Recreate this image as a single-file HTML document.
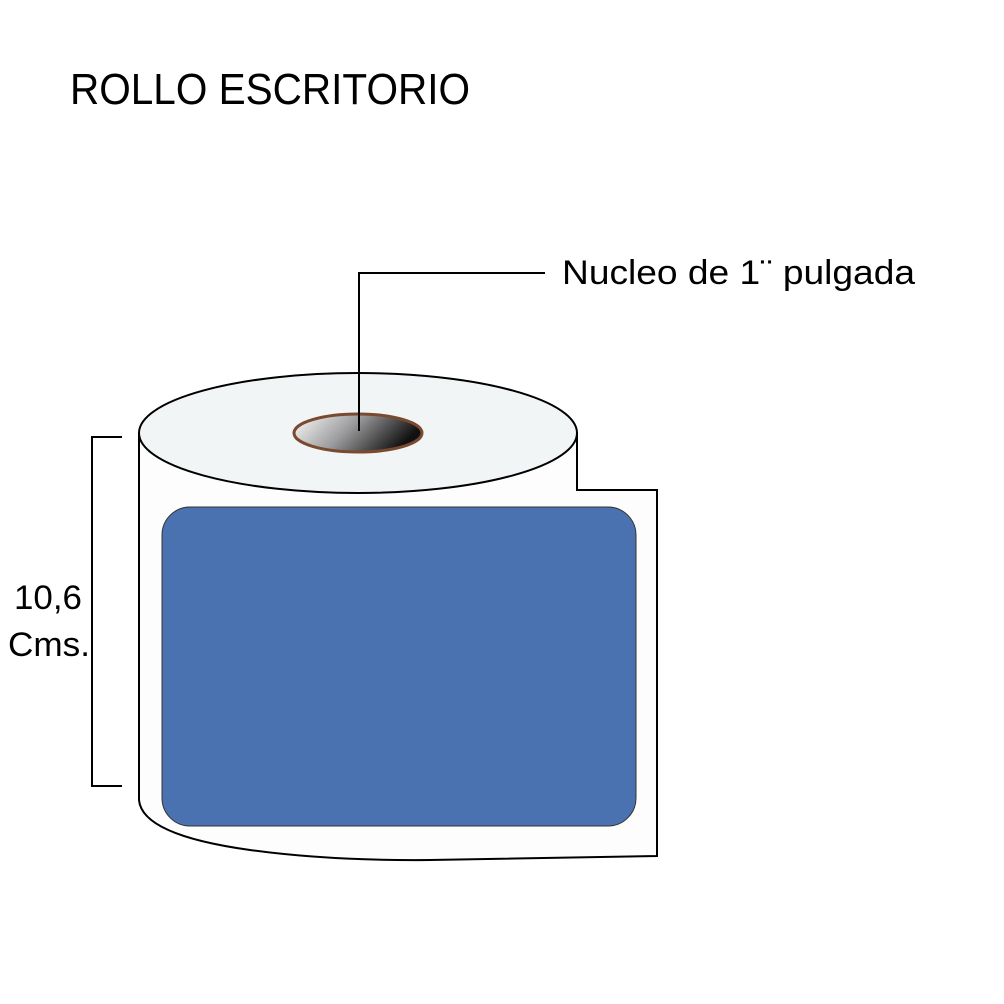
<!DOCTYPE html>
<html><head><meta charset="utf-8"><style>html,body{margin:0;padding:0;background:#fff}svg{display:block}</style></head>
<body>
<svg width="1004" height="1004" viewBox="0 0 1004 1004" xmlns="http://www.w3.org/2000/svg">
<defs>
<linearGradient id="g" x1="0" y1="0" x2="1" y2="0.3">
<stop offset="0" stop-color="#ffffff"/><stop offset="0.5" stop-color="#9a9a9c"/><stop offset="1" stop-color="#111"/>
</linearGradient>
</defs>
<text x="70" y="104" font-family="Liberation Sans, sans-serif" font-size="44" textLength="400" lengthAdjust="spacingAndGlyphs">ROLLO ESCRITORIO</text>
<path d="M139,433 L139,800 Q142,835 250,850 Q330,861 430,860 L657,856 L657,490 L577,490 L577,433 Z" fill="#fdfdfd" stroke="#000" stroke-width="2"/>
<ellipse cx="358" cy="433" rx="219" ry="60" fill="#f2f5f6" stroke="#000" stroke-width="2"/>
<ellipse cx="358" cy="433" rx="64" ry="19" fill="url(#g)" stroke="#7a4a30" stroke-width="3"/>
<rect x="162" y="507" width="474" height="319" rx="28" ry="28" fill="#4a71b0" stroke="#333" stroke-width="1"/>
<polyline points="359,431 359,273 545,273" fill="none" stroke="#000" stroke-width="2"/>
<text x="562" y="284" font-family="Liberation Sans, sans-serif" font-size="34" textLength="353" lengthAdjust="spacingAndGlyphs">Nucleo de 1¨ pulgada</text>
<polyline points="122,437 92,437 92,786 122,786" fill="none" stroke="#000" stroke-width="2"/>
<text x="14" y="609" font-family="Liberation Sans, sans-serif" font-size="34" textLength="68" lengthAdjust="spacingAndGlyphs">10,6</text>
<text x="8" y="656" font-family="Liberation Sans, sans-serif" font-size="34" textLength="82" lengthAdjust="spacingAndGlyphs">Cms.</text>
</svg>
</body></html>
